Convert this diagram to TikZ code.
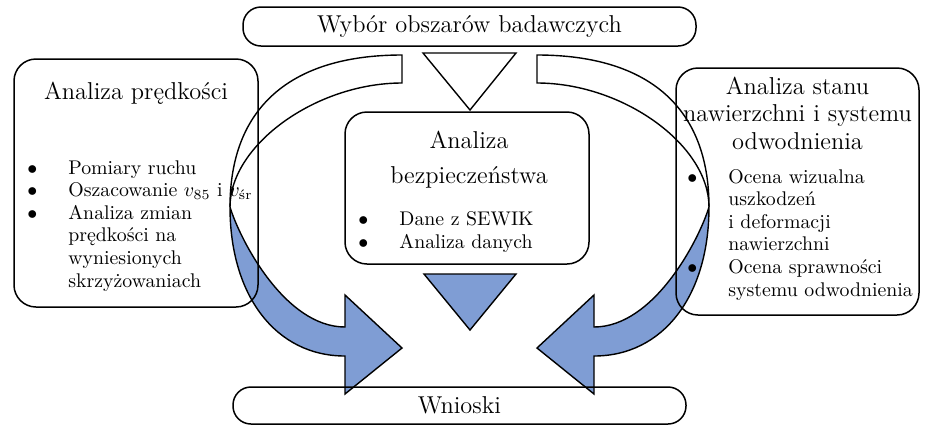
\documentclass[tikz,border=0pt]{standalone}
\usepackage{amsmath}
\usepackage{array}
\definecolor{niebieski}{RGB}{127,157,212}
\tikzset{
  kapsula/.style = {draw=black, line width=0.75pt, rounded corners=9pt, inner sep=0pt, font=\fontsize{12.2}{13.75}\selectfont},
  panel/.style = {draw=black, line width=0.75pt, rounded corners=11pt, inner sep=0pt},
  tytul/.style = {inner sep=0pt, anchor=base, font=\fontsize{12.2}{13.75}\selectfont},
  lista/.style = {inner sep=0pt, anchor=base west, font=\fontsize{9.9}{11.3}\selectfont},
  ksztalt/.style = {draw=black, line width=0.7pt, line join=miter}
}

\begin{document}
\begin{tikzpicture}[x=0.5pt, y=-0.5pt]
  \useasboundingbox (0,0) rectangle (928,425);
  \foreach \s in {1,-1}{
    \begin{scope}[shift={(469.5,0)}, xscale=\s, shift={(-469.5,0)}]
      \draw[ksztalt, fill=white] (402,55) .. controls (290,55) and (230,108) .. (230,207)
        .. controls (230,145) and (316,83) .. (402,83) -- cycle;
      \draw[ksztalt, fill=niebieski] (230,207) .. controls (230,296) and (276,356) .. (345,356)
        -- (345,394) -- (402,348) -- (345,295) -- (345,327)
        .. controls (285,327) and (240,240) .. (230,207) -- cycle;
    \end{scope}
  }
  \draw[ksztalt, fill=white] (423,53) -- (516,53) -- (470,110) -- cycle;
  \draw[ksztalt, fill=niebieski] (424,274) -- (516,274) -- (470,330) -- cycle;

  \node[kapsula, minimum width=226.5pt, minimum height=19.5pt] (wybor) at (469.5,26.5) {Wybór obszarów badawczych};
  \node[kapsula, minimum width=226.5pt, minimum height=18.5pt] (wnioski) at (459.5,405.5) {Wnioski};
  \node[panel, minimum width=122pt, minimum height=124pt] (predkosc) at (136,183) {};
  \node[panel, minimum width=122pt, minimum height=76pt] (bezp) at (467,188) {};
  \node[panel, minimum width=121.5pt, minimum height=123.5pt] (stan) at (797.5,191.5) {};

  \node[tytul] (predkosc_t) at (136,99) {Analiza prędkości};
  \node[tytul] (bezp_t) at (469,148) {\begin{tabular}[t]{@{}c@{}}Analiza\\[3.75pt] bezpieczeństwa\end{tabular}};
  \node[tytul] (stan_t) at (797.5,94) {\begin{tabular}[t]{@{}c@{}}Analiza stanu\\ nawierzchni i systemu\\ odwodnienia\end{tabular}};

  \node[lista] (predkosc_l) at (27,174) {\begin{tabular}[t]{@{}p{20.5pt}@{}l@{}}
    $\bullet$ & Pomiary ruchu\\
    $\bullet$ & Oszacowanie $v_{85}$ i $v_{\text{śr}}$\\
    $\bullet$ & Analiza zmian\\
     & prędkości na\\
     & wyniesionych\\
     & skrzyżowaniach
  \end{tabular}};
  \node[lista] (bezp_l) at (358,225) {\begin{tabular}[t]{@{}p{20.5pt}@{}l@{}}
    $\bullet$ & Dane z SEWIK\\[0.2pt]
    $\bullet$ & Analiza danych
  \end{tabular}};
  \node[lista] (stan_l) at (687,183) {\begin{tabular}[t]{@{}p{20.5pt}@{}l@{}}
    $\bullet$ & Ocena wizualna\\
     & uszkodzeń\\
     & i deformacji\\
     & nawierzchni\\
    $\bullet$ & Ocena sprawności\\
     & systemu odwodnienia
  \end{tabular}};
\end{tikzpicture}
\end{document}
